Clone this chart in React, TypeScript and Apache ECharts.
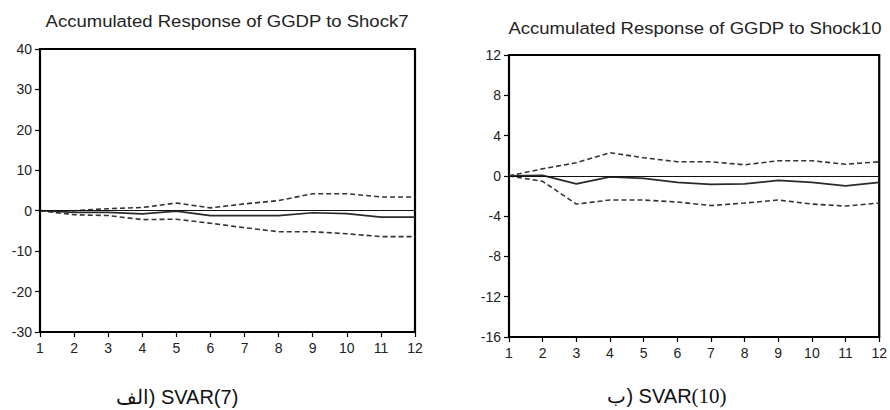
import React, { useEffect, useRef } from "react";
import * as echarts from "echarts";

const periods = [1, 2, 3, 4, 5, 6, 7, 8, 9, 10, 11, 12];

const shock7Response = [0, -0.4, -0.4, -0.8, -0.1, -1.2, -1.2, -1.2, -0.5, -0.7, -1.6, -1.6];
const shock7Upper = [0, 0, 0.5, 0.8, 1.9, 0.7, 1.7, 2.5, 4.2, 4.2, 3.4, 3.4];
const shock7Lower = [0, -1.0, -1.2, -2.2, -2.1, -3.1, -4.2, -5.2, -5.2, -5.7, -6.4, -6.4];

const shock10Response = [0, 0.05, -0.8, -0.1, -0.25, -0.65, -0.85, -0.8, -0.45, -0.65, -1.0, -0.65];
const shock10Upper = [0, 0.7, 1.3, 2.3, 1.8, 1.4, 1.4, 1.1, 1.5, 1.5, 1.15, 1.4];
const shock10Lower = [0, -0.55, -2.8, -2.4, -2.4, -2.6, -2.95, -2.7, -2.4, -2.8, -3.0, -2.7];

const titles = ["Accumulated Response of GGDP to Shock7", "Accumulated Response of GGDP to Shock10"];
const captionLeft = ["الف) SVAR", "(7)"];
const captionRight = ["ب) SVAR", "(10)"];

const FONT = "'Liberation Sans', Arial, sans-serif";

const pairs = (vals: number[]) => periods.map((p, i) => [p, vals[i]]);

export default function App() {
  const ref = useRef<HTMLDivElement>(null);
  useEffect(() => {
    if (!ref.current) return;
    const chart = echarts.init(ref.current, null, { renderer: "svg" });
    const xAxisBase = (gridIndex: number) => ({
      type: "value",
      gridIndex,
      min: 1,
      max: 12,
      interval: 1,
      axisLine: { show: false, onZero: false },
      axisTick: { show: true, length: 5, lineStyle: { color: "#000", width: 1.2 } },
      axisLabel: { color: "#222", fontSize: 14, fontFamily: FONT, margin: 9 },
      splitLine: { show: false },
    });
    const yAxisBase = (gridIndex: number, min: number, max: number, interval: number) => ({
      type: "value",
      gridIndex,
      min,
      max,
      interval,
      axisLine: { show: false, onZero: false },
      axisTick: { show: true, length: 5, lineStyle: { color: "#000", width: 1.2 } },
      axisLabel: { color: "#222", fontSize: 14, fontFamily: FONT, margin: 8 },
      splitLine: { show: false },
    });
    const solid = (idx: number, vals: number[]) => ({
      type: "line",
      xAxisIndex: idx,
      yAxisIndex: idx,
      data: pairs(vals),
      symbol: "none",
      lineStyle: { color: "#2a2a2a", width: 1.7 },
      z: 3,
      markLine: {
        silent: true,
        symbol: "none",
        label: { show: false },
        lineStyle: { color: "#111", width: 1.2, type: "solid" },
        data: [{ yAxis: 0 }],
      },
    });
    const dashed = (idx: number, vals: number[]) => ({
      type: "line",
      xAxisIndex: idx,
      yAxisIndex: idx,
      data: pairs(vals),
      symbol: "none",
      lineStyle: { color: "#333", width: 1.6, type: [5, 3] },
      z: 2,
    });
    chart.setOption({
      animation: false,
      backgroundColor: "#fff",
      grid: [
        { left: 40, top: 49, width: 375, height: 283, show: true, borderColor: "#000", borderWidth: 2.2, backgroundColor: "transparent" },
        { left: 509, top: 55, width: 374, height: 282, show: true, borderColor: "#000", borderWidth: 2.2, backgroundColor: "transparent" },
      ],
      xAxis: [xAxisBase(0), xAxisBase(1)],
      yAxis: [yAxisBase(0, -30, 40, 10), yAxisBase(1, -16, 12, 4)],
      series: [
        solid(0, shock7Response),
        dashed(0, shock7Upper),
        dashed(0, shock7Lower),
        solid(1, shock10Response),
        dashed(1, shock10Upper),
        dashed(1, shock10Lower),
      ],
      graphic: [
        {
          type: "text",
          x: 227,
          y: 21,
          scaleX: 1.09,
          style: { text: titles[0], fontSize: 17, fontFamily: FONT, fill: "#222", align: "center", verticalAlign: "middle" },
        },
        {
          type: "text",
          x: 695,
          y: 28,
          scaleX: 1.09,
          style: { text: titles[1], fontSize: 17, fontFamily: FONT, fill: "#222", align: "center", verticalAlign: "middle" },
        },
        {
          type: "text",
          x: 177,
          y: 397,
          style: {
            text: "{a|" + captionLeft[0] + "}{b|" + captionLeft[1] + "}",
            align: "center",
            verticalAlign: "middle",
            rich: {
              a: { fontSize: 20, fontFamily: FONT, fill: "#111" },
              b: { fontSize: 20, fontFamily: FONT, fill: "#111" },
            },
          },
        },
        {
          type: "text",
          x: 667,
          y: 396,
          style: {
            text: "{a|" + captionRight[0] + "}{b|" + captionRight[1] + "}",
            align: "center",
            verticalAlign: "middle",
            rich: {
              a: { fontSize: 20, fontFamily: FONT, fill: "#111" },
              b: { fontSize: 21, fontFamily: "'Liberation Serif', 'Times New Roman', serif", fill: "#111" },
            },
          },
        },
      ],
    });
    return () => chart.dispose();
  }, []);
  return <div ref={ref} style={{ position: "fixed", left: 0, top: 0, width: 890, height: 410 }} />;
}
